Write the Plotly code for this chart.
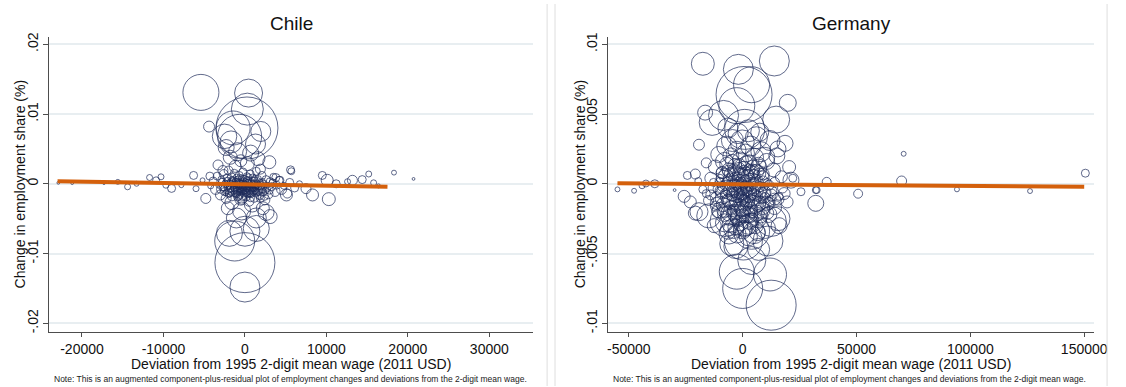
import plotly.graph_objects as go

W, H = 1126, 387

# ---------------- Chile: deviation from 2-digit mean wage (USD) vs change in share
chile_dev = [
    # outer / large occupations
    -5400, 450, 300, 250, -1450, 1950, -650, -4400, -1700, 1300,
    3000, 5600, -2500, -2300, -900, 700, -1800, 1600, -500, -3300,
    300, -1200, 1900, -2700, 3800, -4300, -1050, 1400, -1250, 0,
    1400, 0, 0, -2100, 2200, -1600, 900, 2600, -400, -1900,
    3100, -500,
    # core
    -3900, -3600, -3400, -3200, -3000, -2900, -2700, -2600, -2500, -2400,
    -2300, -2200, -2100, -2000, -1900, -1800, -1750, -1650, -1600, -1500,
    -1450, -1400, -1300, -1250, -1200, -1100, -1050, -1000, -950, -900,
    -850, -800, -750, -700, -650, -600, -550, -500, -450, -400,
    -350, -300, -250, -200, -150, -100, -50, 0, 50, 100,
    150, 200, 250, 300, 350, 400, 450, 500, 550, 600,
    650, 700, 750, 800, 900, 950, 1000, 1100, 1150, 1200,
    1300, 1400, 1450, 1500, 1600, 1700, 1800, 1900, 2000, 2100,
    2200, 2300, 2450, 2600, 2700, 2900, 3100, 3300, 3500, 3700,
    3900, 4200, 4500, 4800, 5200, 5500, 6100,
    # dense centre
    -2600, -2450, -2350, -2250, -2150, -2050, -1950, -1850, -1700, -1550,
    -1350, -1150, -1000, -900, -800, -700, -600, -500, -400, -300,
    -200, -100, 0, 100, 200, 300, 400, 500, 600, 700,
    800, 900, 1000, 1100, 1200, 1300, 1400, 1500, 1600, 1700,
    1850, 2000, 2150, 2300, 2500, 2700, -1500, -1250, -950, -650,
    -350, -50, 250, 550, 850, 1150, 1450, 1750, -1100, -600,
    -150, 350, 850, 1350, -2000, -800, 200, 1200, 2400, -300,
    -3000, -2800, 3000, 3400, -1600, 700, 1900, -900, 450, -450,
    # tails
    -22900, -21200, -17300, -15600, -14400, -13300, -11700, -10900, -10300, -9700,
    -9000, -7800, -6300, -6000, -5200, -4800, -4200, 4300, 5100, 5700,
    6700, 7500, 8300, 9500, 10100, 10300, 11200, 12600, 13200, 14400,
    15200, 15800, 16400, 18300, 20700,
]
chile_chg = [
    0.0131, 0.0130, 0.0107, 0.0080, 0.0080, 0.0075, 0.0068, 0.0082, 0.0060, 0.0057,
    0.0031, 0.0020, 0.0068, 0.0052, 0.0046, 0.0044, 0.0038, 0.0036, 0.0033, 0.0027,
    0.0029, 0.0025, 0.0021, 0.0019, 0.0009, 0.0011, -0.0049, -0.0049, -0.0082, -0.0068,
    -0.0064, -0.0113, -0.0148, -0.0035, -0.0035, -0.0027, -0.0029, -0.0041, -0.0039, -0.0071,
    -0.0047, -0.0022,
    0.0004, -0.0008, 0.0011, -0.0002, -0.0016, 0.0006, -0.0005, 0.0014, -0.0011, 0.0001,
    -0.0021, 0.0008, -0.0004, 0.0019, -0.0013, 0.0003, -0.0007, 0.0010, -0.0018, -0.0001,
    0.0005, -0.0009, 0.0015, -0.0003, -0.0014, 0.0002, -0.0006, 0.0009, -0.0011, -0.0002,
    0.0004, -0.0017, -0.0008, 0.0012, -0.0004, 0.0001, -0.0012, 0.0006, -0.0006, -0.0022,
    0.0002, -0.0009, 0.0017, -0.0003, -0.0014, 0.0008, -0.0005, 0.0000, -0.0010, 0.0004,
    -0.0019, -0.0007, 0.0011, -0.0002, -0.0012, 0.0006, -0.0005, -0.0025, 0.0001, -0.0009,
    0.0014, -0.0003, -0.0015, 0.0003, -0.0007, 0.0009, -0.0011, -0.0001, -0.0020, 0.0005,
    -0.0006, 0.0018, -0.0013, -0.0002, 0.0007, -0.0009, -0.0017, 0.0002, -0.0004, 0.0012,
    -0.0012, 0.0000, -0.0023, 0.0006, -0.0007, -0.0015, 0.0003, -0.0004, 0.0010, -0.0011,
    -0.0002, 0.0005, -0.0008, -0.0003, -0.0014, 0.0002, -0.0006,
    -0.0006, 0.0002, -0.0013, -0.0002, 0.0005, -0.0009, -0.0004, 0.0001, -0.0011, 0.0004,
    -0.0007, -0.0001, -0.0015, -0.0005, 0.0002, -0.0012, -0.0003, -0.0009, 0.0004, -0.0006,
    -0.0011, 0.0002, -0.0004, -0.0013, -0.0001, -0.0008, 0.0003, -0.0005, -0.0014, -0.0002,
    -0.0009, 0.0001, -0.0006, 0.0005, -0.0010, -0.0003, -0.0007, 0.0002, -0.0012, -0.0004,
    0.0000, -0.0008, 0.0003, -0.0005, -0.0010, -0.0002, -0.0005, 0.0000, -0.0003, -0.0009,
    -0.0001, -0.0002, -0.0005, -0.0003, -0.0001, -0.0008, -0.0004, -0.0001, -0.0008, -0.0016,
    -0.0007, -0.0015, -0.0004, -0.0011, -0.0015, 0.0007, 0.0006, 0.0008, -0.0018, -0.0018,
    -0.0008, 0.0003, -0.0009, 0.0002, 0.0006, -0.0020, -0.0021, -0.0019, 0.0010, 0.0009,
    0.00014, 0.0001, 0.0001, 0.00028, -0.00043, 0.0, 0.0009, 0.0005, 0.0010, -0.0002,
    -0.00066, -0.0002, 0.0012, -0.0007, 0.0005, -0.0021, -0.0003, 0.0005, -0.0016, 0.0018,
    0.0, -0.0007, -0.0016, 0.0012, 0.0005, -0.0022, 0.0, 0.0003, 0.0005, 0.0006,
    0.0014, 0.00014, -0.0003, 0.0016, 0.0007,
]
chile_weight = [
    324, 196, 256, 961, 289, 100, 484, 30, 121, 100,
    42, 16, 150, 64, 81, 64, 49, 49, 36, 25,
    49, 36, 25, 25, 16, 16, 100, 100, 400, 225,
    169, 900, 225, 42, 42, 49, 64, 64, 81, 169,
    49, 36,
    16, 25, 16, 9, 25, 12, 16, 20, 16, 9,
    25, 16, 12, 20, 16, 9, 12, 16, 20, 9,
    12, 16, 16, 9, 12, 16, 9, 12, 16, 6,
    9, 20, 9, 16, 6, 9, 12, 9, 6, 25,
    6, 9, 16, 6, 12, 9, 6, 9, 9, 6,
    16, 9, 12, 6, 9, 9, 6, 25, 9, 12,
    16, 6, 12, 9, 9, 12, 16, 9, 20, 12,
    9, 16, 12, 9, 12, 16, 16, 9, 12, 16,
    16, 12, 25, 16, 12, 20, 16, 16, 12, 25,
    16, 16, 25, 12, 20, 16, 16,
    9, 6, 9, 6, 9, 12, 6, 9, 12, 9,
    9, 6, 12, 6, 9, 9, 6, 9, 6, 9,
    12, 6, 9, 12, 6, 9, 6, 9, 12, 6,
    9, 6, 9, 9, 12, 6, 9, 6, 12, 9,
    9, 12, 9, 9, 12, 9, 6, 6, 6, 6,
    4, 4, 4, 4, 4, 6, 6, 6, 9, 12,
    9, 12, 9, 12, 12, 9, 9, 9, 16, 16,
    16, 12, 16, 12, 9, 16, 16, 16, 9, 9,
    2, 2, 2, 6, 9, 6, 9, 12, 9, 9,
    16, 6, 16, 9, 6, 25, 9, 16, 36, 12,
    9, 25, 36, 16, 36, 42, 16, 9, 25, 16,
    9, 9, 4, 6, 2,
]
chile_fit_x = [-23000, 17500]
chile_fit_y = [0.00037, -0.00044]

# ---------------- Germany
germany_dev = [
    # outer / large occupations
    -17500, 13900, 3900, -1900, 600, 19800, 14700, -16500, -8400, 900,
    -19200, 18600, 20400, -2600, 12000, 0, 12500, 300, -14900, 12600,
    -19200, 32100, -13400, -2600, 9700, 15500, -7800, 3900, 11100, -4800,
    15500, 2500, -1900,
    # upper core
    -12000, -10500, -9000, -8000, -7000, -6000, -5200, -4500, -3500, -2500,
    -1800, -1000, -200, 500, 1200, 2000, 2800, 3500, 4300, 5200,
    6000, 7000, 8000, 9000, 10500, 12000, 13500, 15000, 17000, -14000,
    -16000, -2000, 2500, -6500, 7500,
    # central core
    -13000, -11500, -10000, -9200, -8500, -7800, -7200, -6600, -6000, -5500,
    -5000, -4500, -4000, -3600, -3200, -2800, -2400, -2000, -1600, -1200,
    -800, -400, 0, 400, 800, 1200, 1600, 2000, 2400, 2800,
    3200, 3700, 4200, 4700, 5200, 5800, 6400, 7000, 7600, 8300,
    9000, 9800, 10600, 11500, 12500, 14000, 15500, -15000, -17500, -19500,
    17500, 19500, 22000,
    # dense centre
    -14000, -12800, -11600, -10800, -10000, -9400, -8800, -8200, -7600, -7000,
    -6500, -6000, -5500, -5000, -4600, -4200, -3800, -3400, -3000, -2600,
    -2200, -1800, -1400, -1000, -600, -200, 200, 600, 1000, 1400,
    1800, 2200, 2600, 3000, 3400, 3800, 4200, 4600, 5000, 5500,
    6000, 6500, 7000, 7600, 8200, 8800, 9400, 10000, 10800, 11600,
    12800, 14000, -9000, -7500, -6200, -5000, -3800, -2700, -1600, -500,
    600, 1700, 2800, 3900, 5000, 6200, 7500, 9000, -8000, -6000,
    -4000, -2000, 0, 2000, 4000, 6000, 8000, -11000, 11000, -5500,
    -3000, -1000, 1000, 3000, 5500, -7000, -4500, -1500, 1500, 4500,
    7000, -2500, 2500, 0, -6500, 6500, -9500, 9500, -3500, 3500,
    -500, 500, -12000, 12000, -16000, 16000, -1200, 1200, -4000, 4000,
    # lower core
    -10000, -8000, -6000, -4000, -2000, 0, 1500, 3000, 5000, 6500,
    8500, 10000, 11500, 14000, 16000, -12500, -3000, 7000, 4000, -6000,
    # tails
    -55000, -47700, -44200, -42500, -38600, -29900, -24300, -20800, -25700, -23000,
    -20800, 25600, 32100, 21200, 18200, 36900, 32500, 50700, 69800, 70700,
    94100, 126200, 150500,
]
germany_chg = [
    0.0086, 0.0088, 0.0071, 0.0082, 0.0064, 0.0058, 0.0046, 0.0051, 0.0049, 0.0039,
    0.0028, 0.0029, 0.0012, -0.0063, -0.0065, -0.0075, -0.0087, -0.0041, -0.0023, -0.0027,
    -0.0020, -0.0014, 0.0044, 0.0056, 0.0019, 0.0025, -0.0027, -0.0034, -0.0041, -0.0043,
    -0.0025, -0.0029, -0.0022,
    0.0012, 0.0021, 0.0008, 0.0016, 0.0027, 0.0010, 0.0020, 0.0031, 0.0013, 0.0024,
    0.0007, 0.0017, 0.0030, 0.0011, 0.0022, 0.0006, 0.0015, 0.0027, 0.0009, 0.0019,
    0.0033, 0.0012, 0.0023, 0.0007, 0.0016, 0.0031, 0.0010, 0.0020, 0.0005, 0.0004,
    0.0015, 0.0036, 0.0038, 0.0040, 0.0037,
    -0.0003, -0.0010, 0.0001, -0.0006, -0.0015, -0.0001, -0.0009, 0.0003, -0.0005, -0.0013,
    0.0000, -0.0008, 0.0004, -0.0003, -0.0012, -0.0001, -0.0007, 0.0002, -0.0010, -0.0004,
    -0.0016, 0.0001, -0.0007, -0.0002, -0.0012, 0.0003, -0.0005, -0.0014, -0.0001, -0.0009,
    0.0004, -0.0004, -0.0013, 0.0000, -0.0008, 0.0003, -0.0005, -0.0015, -0.0002, -0.0010,
    0.0002, -0.0006, -0.0014, -0.0001, -0.0008, 0.0001, -0.0011, -0.0012, -0.0004, 0.0002,
    -0.0003, -0.0013, 0.0004,
    -0.0008, 0.0001, -0.0014, -0.0004, 0.0004, -0.0011, -0.0002, -0.0019, -0.0007, 0.0002,
    -0.0012, -0.0004, 0.0005, -0.0017, -0.0009, 0.0000, -0.0006, -0.0014, 0.0003, -0.0010,
    -0.0003, -0.0018, -0.0007, 0.0004, -0.0012, -0.0005, -0.0020, -0.0001, -0.0010, -0.0015,
    0.0001, -0.0006, -0.0013, -0.0003, -0.0018, -0.0008, 0.0002, -0.0011, -0.0005, -0.0016,
    -0.0002, -0.0009, 0.0003, -0.0013, -0.0006, -0.0017, -0.0002, -0.0010, 0.0001, -0.0014,
    -0.0005, -0.0011, 0.0008, 0.0006, 0.0009, 0.0007, 0.0010, 0.0008, 0.0011, 0.0006,
    0.0009, 0.0007, 0.0010, 0.0008, 0.0006, 0.0009, 0.0007, 0.0005, -0.0022, -0.0024,
    -0.0021, -0.0025, -0.0023, -0.0022, -0.0026, -0.0021, -0.0023, -0.0020, -0.0021, -0.0029,
    -0.0031, -0.0028, -0.0032, -0.0027, -0.0030, 0.0014, 0.0016, 0.0013, 0.0015, 0.0012,
    0.0014, -0.0036, -0.0038, -0.0033, -0.0034, -0.0035, -0.0005, -0.0007, -0.0004, -0.0006,
    -0.0009, -0.0011, -0.0016, -0.0012, -0.0007, -0.0009, -0.0001, -0.0003, -0.0019, -0.0020,
    -0.0019, -0.0028, -0.0021, -0.0032, -0.0024, -0.0018, -0.0030, -0.0022, -0.0035, -0.0025,
    -0.0019, -0.0032, -0.0022, -0.0017, -0.0030, -0.0030, -0.0045, -0.0047, -0.0055, -0.0036,
    -0.0004, -0.0005, -0.00014, 0.00002, 0.0, -0.00045, 0.0006, 0.0007, -0.0009, -0.0013,
    -0.0021, -0.00057, -0.00045, 0.00026, -0.0007, 0.00014, -0.00045, -0.00071, 0.0002, 0.00215,
    -0.0004, -0.00052, 0.00076,
]
germany_weight = [
    132, 225, 324, 225, 784, 72, 182, 56, 225, 400,
    30, 64, 42, 306, 272, 400, 625, 361, 144, 225,
    81, 64, 169, 324, 100, 64, 225, 324, 225, 144,
    144, 100, 100,
    49, 64, 36, 81, 100, 49, 64, 121, 49, 81,
    36, 64, 144, 49, 81, 36, 64, 100, 49, 81,
    121, 64, 100, 36, 64, 100, 49, 64, 36, 36,
    25, 100, 121, 100, 81,
    25, 36, 25, 36, 49, 25, 36, 25, 36, 49,
    25, 36, 25, 16, 36, 25, 36, 16, 25, 16,
    49, 25, 36, 16, 36, 25, 25, 36, 16, 36,
    25, 25, 49, 25, 36, 25, 36, 49, 25, 36,
    25, 36, 49, 25, 36, 25, 36, 25, 16, 12,
    25, 36, 16,
    25, 16, 36, 25, 16, 36, 25, 49, 25, 16,
    36, 25, 16, 49, 25, 16, 25, 36, 16, 25,
    16, 49, 25, 16, 36, 25, 49, 16, 25, 36,
    16, 25, 36, 16, 49, 25, 16, 36, 25, 49,
    16, 25, 16, 36, 25, 49, 16, 25, 16, 36,
    25, 36, 36, 49, 36, 49, 36, 49, 36, 49,
    36, 49, 36, 49, 36, 49, 36, 36, 49, 64,
    49, 64, 49, 64, 49, 64, 49, 36, 36, 64,
    64, 64, 64, 64, 64, 49, 49, 49, 49, 49,
    49, 81, 81, 81, 64, 64, 36, 36, 36, 36,
    25, 25, 25, 25, 16, 16, 25, 25, 36, 36,
    64, 81, 64, 100, 64, 64, 100, 64, 121, 81,
    64, 100, 64, 49, 64, 49, 144, 121, 196, 100,
    6, 6, 9, 12, 16, 2, 16, 25, 36, 36,
    49, 16, 12, 64, 36, 20, 12, 20, 25, 6,
    6, 6, 16,
]
germany_fit_x = [-55000, 150000]
germany_fit_y = [0.00003, -0.00021]

# ---------------- axis ticks
chile_xticks = [-20000, -10000, 0, 10000, 20000, 30000]
chile_xtick_text = ["-20000", "-10000", "0", "10000", "20000", "30000"]
chile_yticks = [-0.02, -0.01, 0, 0.01, 0.02]
chile_ytick_text = ["-.02", "-.01", "0", ".01", ".02"]
germany_xticks = [-50000, 0, 50000, 100000, 150000]
germany_xtick_text = ["-50000", "0", "50000", "100000", "150000"]
germany_yticks = [-0.01, -0.005, 0, 0.005, 0.01]
germany_ytick_text = ["-.01", "-.005", "0", ".005", ".01"]

assert len(chile_dev) == len(chile_chg) == len(chile_weight)
assert len(germany_dev) == len(germany_chg) == len(germany_weight)

NAVY = "#1e2b5a"
ORANGE = "#d4600c"
GRID = "#e8eef1"
AXIS = "#4d4d4d"
FONT = "Liberation Sans, Arial, sans-serif"


def fx(px):
    return px / W


def fy(py):
    return 1 - py / H


fig = go.Figure()

panels = [
    (chile_dev, chile_chg, chile_weight, chile_fit_x, chile_fit_y, "x", "y"),
    (germany_dev, germany_chg, germany_weight, germany_fit_x, germany_fit_y, "x2", "y2"),
]
for dev, chg, wt, fxv, fyv, xa, ya in panels:
    fig.add_trace(go.Scatter(
        x=dev, y=chg, mode="markers", xaxis=xa, yaxis=ya,
        marker=dict(symbol="circle-open", size=wt, sizemode="area", sizeref=0.5,
                    color=NAVY, line=dict(width=1, color=NAVY)),
        showlegend=False, hoverinfo="skip",
    ))
    fig.add_trace(go.Scatter(
        x=fxv, y=fyv, mode="lines", xaxis=xa, yaxis=ya,
        line=dict(color=ORANGE, width=4),
        showlegend=False, hoverinfo="skip",
    ))

common_x = dict(showline=True, linecolor=AXIS, linewidth=1.3, ticks="outside",
                ticklen=4, tickcolor=AXIS, tickwidth=1.2, showgrid=False,
                zeroline=False, tickfont=dict(size=14, color="#111", family=FONT))
common_y = dict(showline=True, linecolor=AXIS, linewidth=1.3, ticks="outside",
                ticklen=5, tickcolor=AXIS, tickwidth=1.2, showgrid=True,
                gridcolor=GRID, gridwidth=1.5, zeroline=False, tickangle=-90,
                tickfont=dict(size=14, color="#111", family=FONT))

ydom = [fy(332), fy(33)]
fig.update_layout(
    width=W, height=H, autosize=False,
    margin=dict(l=0, r=0, t=0, b=0),
    paper_bgcolor="white", plot_bgcolor="white",
    font=dict(family=FONT, color="#111"),
    xaxis=dict(domain=[fx(49), fx(539)], range=[-24000, 35400], anchor="y",
               tickvals=chile_xticks, ticktext=chile_xtick_text, **common_x),
    yaxis=dict(domain=ydom, range=[-0.0212, 0.0211], anchor="x",
               tickvals=chile_yticks, ticktext=chile_ytick_text, **common_y),
    xaxis2=dict(domain=[fx(615), fx(1107)], range=[-59000, 154400], anchor="y2",
                tickvals=germany_xticks, ticktext=germany_xtick_text, **common_x),
    yaxis2=dict(domain=ydom, range=[-0.0106, 0.01055], anchor="x2",
                tickvals=germany_yticks, ticktext=germany_ytick_text, **common_y),
)

xtitle = "Deviation from 1995 2-digit mean wage (2011 USD)"
ytitle = "Change in employment share (%)"
note = ("Note: This is an augmented component-plus-residual plot of employment "
        "changes and deviations from the 2-digit mean wage.")

annotations = []
for name, cx, yx, notex in [("Chile", 294, 19, 52), ("Germany", 861, 586, 618)]:
    annotations += [
        dict(text=name, x=fx(cx), y=fy(20), xref="paper", yref="paper",
             xanchor="center", yanchor="middle", showarrow=False,
             font=dict(size=19, family=FONT, color="#111")),
        dict(text=xtitle, x=fx(cx), y=fy(365), xref="paper", yref="paper",
             xanchor="center", yanchor="middle", showarrow=False,
             font=dict(size=14, family=FONT, color="#111")),
        dict(text=ytitle, x=fx(yx), y=fy(182), xref="paper", yref="paper",
             xanchor="center", yanchor="middle", showarrow=False, textangle=-90,
             font=dict(size=14, family=FONT, color="#111")),
        dict(text=note, x=fx(notex), y=fy(380), xref="paper", yref="paper",
             xanchor="left", yanchor="middle", showarrow=False,
             font=dict(size=8.5, family=FONT, color="#222")),
    ]
fig.update_layout(annotations=annotations)

# faint frames separating the two combined graphs
shapes = []
for px in (553, 561, 1120):
    shapes.append(dict(type="line", xref="paper", yref="paper",
                       x0=fx(px), x1=fx(px), y0=0, y1=1,
                       line=dict(color="#dedede", width=1)))
fig.update_layout(shapes=shapes)

fig.write_html("out.html")
